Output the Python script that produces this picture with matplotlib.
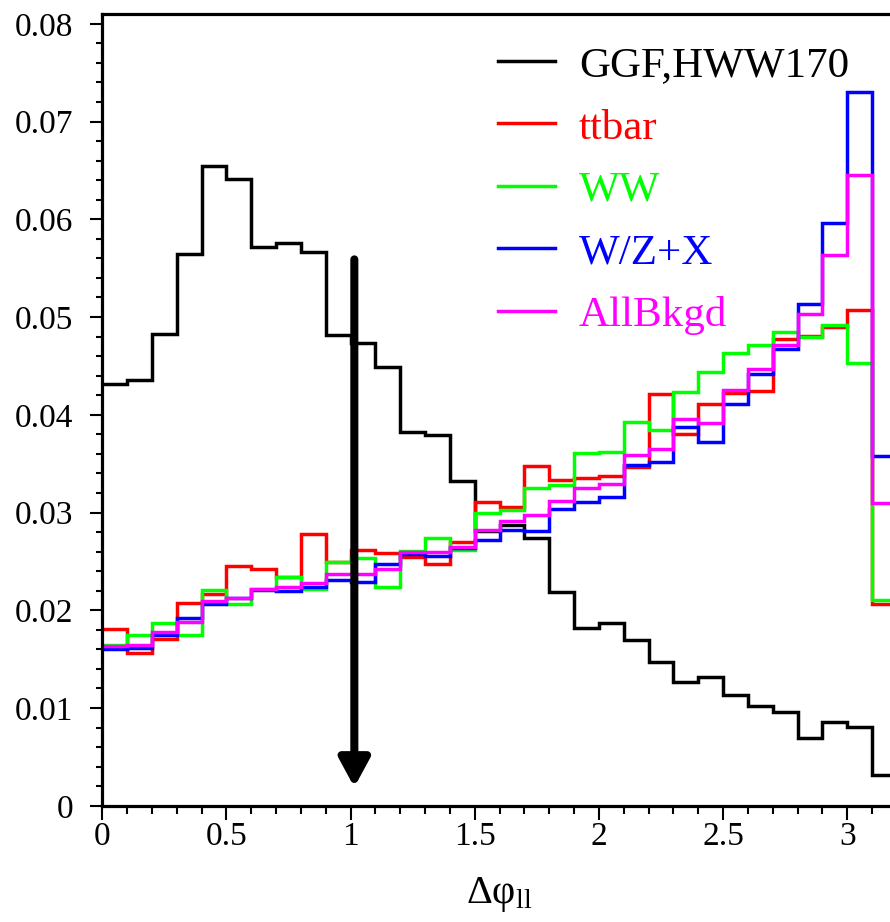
import numpy as np
import matplotlib
matplotlib.use('Agg')
import matplotlib.pyplot as plt
from matplotlib.ticker import MultipleLocator

plt.rcParams['font.family'] = ['Liberation Serif', 'DejaVu Serif']
plt.rcParams['mathtext.fontset'] = 'custom'
plt.rcParams['mathtext.rm'] = 'Liberation Serif'


# Data: normalised delta-phi distributions, 32 bins of 0.1
bin_edges = np.round(np.arange(0, 3.21, 0.1), 2)

ggf = [0.0431, 0.0436, 0.0483, 0.0564, 0.0654, 0.0641, 0.0572, 0.0576,
       0.0567, 0.0482, 0.0473, 0.0449, 0.0382, 0.0379, 0.0332, 0.0281,
       0.0287, 0.0274, 0.0219, 0.0182, 0.0187, 0.0170, 0.0147, 0.0127,
       0.0132, 0.0113, 0.0102, 0.0096, 0.0069, 0.0086, 0.0081, 0.0032]
ttbar = [0.0181, 0.0156, 0.0171, 0.0207, 0.0217, 0.0245, 0.0242, 0.0234,
         0.0278, 0.0249, 0.0262, 0.0259, 0.0255, 0.0247, 0.0270, 0.0311,
         0.0306, 0.0348, 0.0333, 0.0335, 0.0337, 0.0347, 0.0421, 0.0380,
         0.0411, 0.0422, 0.0424, 0.0478, 0.0481, 0.0490, 0.0507, 0.0206]
ww = [0.0165, 0.0175, 0.0187, 0.0175, 0.0221, 0.0206, 0.0222, 0.0234,
      0.0222, 0.0249, 0.0253, 0.0224, 0.0261, 0.0274, 0.0262, 0.0300,
      0.0303, 0.0325, 0.0328, 0.0361, 0.0362, 0.0393, 0.0384, 0.0423,
      0.0444, 0.0463, 0.0471, 0.0485, 0.0480, 0.0492, 0.0453, 0.0211]
wzx = [0.0160, 0.0161, 0.0175, 0.0192, 0.0206, 0.0213, 0.0221, 0.0220,
       0.0224, 0.0231, 0.0229, 0.0247, 0.0258, 0.0256, 0.0264, 0.0272,
       0.0282, 0.0281, 0.0304, 0.0311, 0.0316, 0.0349, 0.0352, 0.0388,
       0.0372, 0.0411, 0.0442, 0.0467, 0.0513, 0.0596, 0.0730, 0.0358]
allbkgd = [0.0163, 0.0165, 0.0178, 0.0188, 0.0210, 0.0213, 0.0222, 0.0224,
           0.0228, 0.0237, 0.0237, 0.0242, 0.0260, 0.0260, 0.0265, 0.0282,
           0.0291, 0.0297, 0.0312, 0.0325, 0.0329, 0.0359, 0.0365, 0.0396,
           0.0392, 0.0425, 0.0447, 0.0471, 0.0503, 0.0563, 0.0645, 0.0310]

labels = ['GGF,HWW170', 'ttbar', 'WW', 'W/Z+X', 'AllBkgd']
colors = ['black', '#ff0000', '#00ff00', '#0000ff', '#ff00ff']
series = [ggf, ttbar, ww, wzx, allbkgd]

cut_value = 1.015


# Figure
fig = plt.figure(figsize=(8.9, 9.22), dpi=100)
ax = fig.add_axes([102.3 / 890, 116.2 / 922, 794.6 / 890, 791.8 / 922])

for vals, col, lab in zip(series, colors, labels):
    ax.stairs(vals, bin_edges, color=col, lw=2.5, label=lab, baseline=None)

# cut arrow
ax.annotate('', xy=(cut_value, 0.0019), xytext=(cut_value, 0.0559),
            arrowprops=dict(arrowstyle='-|>,head_length=0.85,head_width=0.46',
                            lw=5.8, color='black', mutation_scale=20,
                            shrinkA=0, shrinkB=0))

ax.set_xlim(0, 3.2)
ax.set_ylim(0, 0.081)
ax.xaxis.set_minor_locator(MultipleLocator(0.1))
ax.yaxis.set_minor_locator(MultipleLocator(0.002))
ax.set_xticks([0, 0.5, 1, 1.5, 2, 2.5, 3])
ax.set_xticklabels(['0', '0.5', '1', '1.5', '2', '2.5', '3'])
ax.set_yticks([0, 0.01, 0.02, 0.03, 0.04, 0.05, 0.06, 0.07, 0.08])
ax.set_yticklabels(['0', '0.01', '0.02', '0.03', '0.04', '0.05', '0.06', '0.07', '0.08'])

ax.tick_params(axis='both', which='both', direction='out', width=1.5, labelsize=24)
ax.tick_params(axis='y', which='major', length=9, pad=12)
ax.tick_params(axis='y', which='minor', length=4)
ax.tick_params(axis='x', which='major', length=10, pad=1)
ax.tick_params(axis='x', which='minor', length=6)
for sp in ax.spines.values():
    sp.set_linewidth(2.3)

ax.set_xlabel(r'$\mathrm{Δφ_{ll}}$', fontsize=29, labelpad=17)

leg = ax.legend(loc='upper left', bbox_to_anchor=(498 / 890, 1 - 46 / 922),
                bbox_transform=fig.transFigure, frameon=False, fontsize=31,
                borderpad=0, borderaxespad=0, handlelength=1.33,
                handletextpad=0.55, labelspacing=0.54)
for txt, col in zip(leg.get_texts(), colors):
    txt.set_color(col)

fig.savefig('out.png', dpi=100)
